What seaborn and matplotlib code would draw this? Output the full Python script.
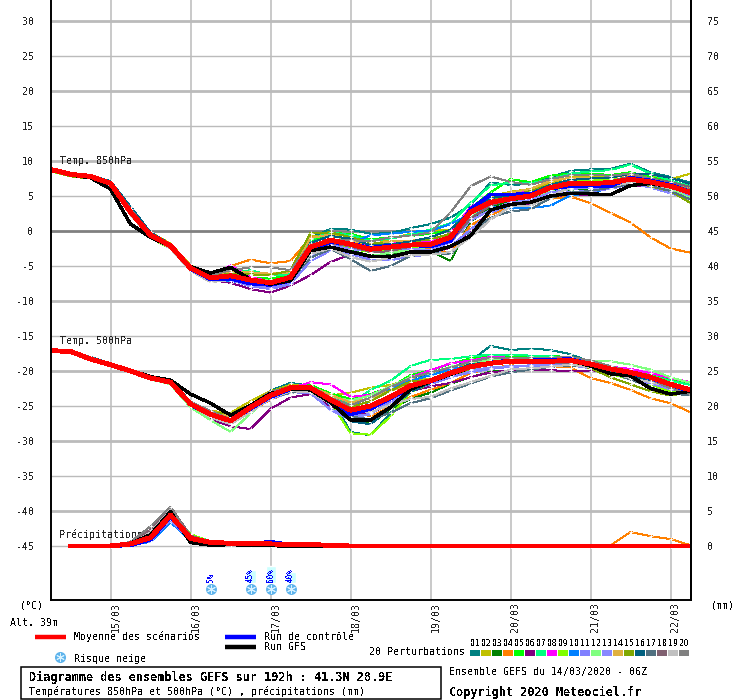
import pandas as pd
import matplotlib
matplotlib.use('Agg')
import matplotlib.pyplot as plt
from matplotlib.lines import Line2D
from matplotlib.patches import Rectangle
from matplotlib.transforms import ScaledTranslation
import seaborn as sns

# 850 hPa temperature, one value per 6h from 14/03 06Z to 22/03 06Z
t850_p01 = [8.9,8.2,7.9,7.0,3.4,-0.3,-2.0,-5.1,-6.9,-6.7,-7.3,-7.6,-7.0,-1.0,0.3,0.2,-0.4,-0.3,0.4,1.0,1.9,3.7,6.9,6.6,6.7,7.7,8.6,8.8,8.9,9.6,8.4,7.7,6.9]
t850_p02 = [8.7,8.0,7.8,6.9,2.9,-0.2,-1.8,-4.9,-6.2,-6.0,-6.1,-6.3,-5.7,-0.8,-0.5,-0.7,-2.2,-1.1,-0.4,0.2,0.2,2.8,5.0,5.6,6.0,6.9,7.7,7.7,7.9,8.0,7.7,7.4,8.2]
t850_p03 = [8.6,7.9,7.5,6.2,2.6,-0.9,-2.4,-5.4,-6.9,-6.9,-7.2,-7.5,-7.0,-3.0,-1.8,-2.8,-3.5,-3.4,-2.9,-2.8,-4.3,1.3,3.4,4.3,4.8,5.6,5.9,6.1,6.3,6.9,6.8,6.2,5.2]
t850_p04 = [8.8,8.2,7.9,6.9,3.1,-0.5,-2.0,-5.0,-6.4,-5.0,-4.1,-4.6,-4.3,-0.9,-0.7,-1.2,-3.0,-2.8,-2.6,-2.5,-3.1,0.8,2.3,3.4,4.0,4.6,4.9,4.0,2.6,1.2,-0.9,-2.5,-3.1]
t850_p05 = [8.7,8.0,7.7,6.8,2.7,-0.7,-2.2,-5.5,-6.8,-6.5,-6.7,-6.8,-6.3,-1.5,-0.3,-0.4,-1.2,-0.9,-0.7,-0.4,0.1,3.2,5.5,7.4,7.0,7.9,8.2,8.2,8.0,8.4,7.7,7.0,6.2]
t850_p06 = [8.7,8.0,7.6,6.7,2.5,-0.8,-2.3,-5.6,-7.0,-7.4,-8.3,-8.8,-7.8,-6.3,-4.4,-3.4,-3.7,-3.7,-3.1,-3.0,-2.4,0.1,2.8,3.6,3.9,4.9,5.2,5.1,5.1,6.4,6.4,6.0,5.2]
t850_p07 = [8.8,8.1,7.8,6.9,3.0,-0.4,-2.0,-5.2,-6.5,-6.0,-5.6,-6.3,-6.2,-1.2,-0.2,-0.6,-1.4,-1.1,-0.5,0.2,1.1,4.0,6.5,6.9,6.8,7.4,8.2,8.5,8.7,9.5,8.2,7.2,6.4]
t850_p08 = [8.8,8.1,7.8,6.9,2.8,-0.6,-2.2,-5.4,-6.6,-4.9,-6.6,-7.2,-6.9,-2.4,-1.4,-1.6,-2.1,-1.5,-1.6,-1.5,-0.3,3.4,5.0,5.4,5.6,6.6,7.0,7.1,7.1,7.5,7.0,6.6,5.7]
t850_p09 = [8.5,7.9,7.6,6.6,2.4,-1.0,-2.5,-5.6,-7.0,-6.8,-7.5,-7.8,-7.2,-2.9,-1.6,-2.5,-3.0,-2.8,-2.4,-2.1,-1.0,2.0,3.9,4.9,5.3,6.4,7.0,7.2,7.4,7.6,6.9,6.1,5.0]
t850_p10 = [8.8,8.1,7.6,6.7,2.5,-0.8,-2.3,-5.5,-7.2,-7.1,-7.7,-8.0,-7.4,-3.4,-2.3,-1.8,-0.6,-0.4,-0.1,0.0,1.0,2.4,3.5,3.2,3.3,3.6,5.1,5.4,6.2,6.8,6.6,6.2,5.0]
t850_p11 = [8.6,8.0,7.7,6.7,2.6,-0.7,-2.3,-5.6,-7.1,-7.0,-7.9,-8.3,-7.6,-4.3,-2.8,-3.3,-4.1,-4.2,-3.6,-3.4,-2.2,0.2,2.6,3.8,4.3,5.1,5.6,5.7,6.0,6.7,6.6,6.0,4.9]
t850_p12 = [8.7,8.0,7.8,6.8,2.8,-0.6,-2.1,-5.3,-6.6,-6.4,-6.9,-7.1,-6.8,-3.8,-2.3,-3.0,-3.6,-3.1,-2.7,-2.2,-1.3,2.2,4.1,4.4,4.8,5.8,6.4,6.5,6.7,7.0,6.6,5.9,4.7]
t850_p13 = [8.8,8.2,7.9,7.0,3.0,-0.4,-2.0,-5.1,-6.8,-6.6,-7.6,-8.1,-7.3,-3.5,-2.0,-2.6,-2.8,-2.4,-2.6,-2.7,-1.6,1.5,3.0,4.1,4.4,5.5,6.0,6.2,6.2,6.9,6.2,5.4,4.5]
t850_p14 = [8.9,8.2,7.9,7.0,3.3,-0.3,-1.9,-5.0,-6.3,-5.9,-5.9,-6.1,-5.9,-1.0,-0.5,-1.4,-1.9,-1.5,-1.4,-1.1,-0.5,3.0,4.7,5.5,6.0,7.2,7.6,7.6,7.6,8.1,7.5,6.8,6.0]
t850_p15 = [8.6,7.8,7.5,6.4,2.4,-0.9,-2.4,-5.4,-6.5,-6.1,-6.2,-6.3,-5.6,-0.3,-0.2,-0.9,-1.6,-1.9,-1.5,-1.2,-0.4,2.4,4.6,5.0,5.7,6.6,6.7,6.7,6.7,7.2,6.4,5.7,4.0]
t850_p16 = [9.0,8.3,8.0,7.1,3.5,-0.2,-1.9,-5.2,-6.7,-6.7,-7.2,-7.7,-7.1,-1.7,-0.7,-1.1,-2.0,-1.9,-1.5,-0.9,0.2,2.8,4.7,5.1,5.4,6.6,7.3,7.5,7.6,8.2,8.1,7.6,6.7]
t850_p17 = [8.8,8.2,7.8,6.8,2.9,-0.6,-2.1,-5.4,-6.9,-6.8,-7.3,-7.6,-7.0,-3.8,-2.6,-4.0,-5.7,-5.0,-3.6,-3.1,-3.3,-0.3,1.9,2.8,3.1,4.7,5.5,5.7,6.2,6.7,6.5,5.7,4.5]
t850_p18 = [8.7,8.1,7.7,6.8,3.2,-0.5,-2.1,-5.3,-6.8,-6.5,-6.9,-7.3,-6.7,-3.1,-1.7,-2.2,-3.0,-2.9,-2.2,-2.0,-1.5,1.8,3.6,4.7,5.1,6.1,6.8,6.7,7.1,7.8,7.5,7.0,6.3]
t850_p19 = [8.6,8.0,7.6,6.5,2.3,-0.9,-2.5,-5.7,-7.3,-7.0,-7.4,-7.5,-7.0,-3.3,-2.5,-3.7,-4.4,-3.8,-3.5,-3.4,-3.0,-0.9,1.6,3.5,3.6,5.0,6.2,6.3,6.4,6.9,6.7,6.1,5.3]
t850_p20 = [8.8,8.1,7.7,6.9,3.1,-0.4,-2.0,-5.0,-6.3,-5.6,-5.2,-5.2,-5.6,-1.9,-1.4,-1.3,-1.5,-0.9,-0.7,-0.2,2.6,6.4,7.8,7.0,6.6,7.4,8.0,8.0,7.9,8.2,7.5,6.7,5.9]
t850_control = [8.8,8.1,7.7,6.9,2.8,-0.6,-2.2,-5.4,-6.9,-6.8,-7.5,-7.7,-7.1,-2.6,-1.6,-1.8,-2.4,-2.1,-2.0,-2.2,-1.4,3.1,5.2,5.2,5.3,6.1,6.4,6.5,6.4,7.6,7.2,6.6,5.6]
t850_gfs = [8.7,8.0,7.6,6.0,1.0,-0.9,-2.2,-5.1,-6.0,-5.2,-6.9,-7.6,-7.1,-2.8,-2.3,-3.0,-3.6,-3.7,-3.0,-3.0,-2.2,-0.7,3.0,3.8,4.1,5.0,5.4,5.3,5.2,6.5,6.8,6.3,5.5]
t850_mean = [8.8,8.1,7.8,6.8,2.7,-0.6,-2.1,-5.3,-6.7,-6.4,-7.0,-7.4,-6.6,-2.3,-1.3,-1.9,-2.6,-2.3,-2.0,-1.9,-0.9,2.7,4.1,4.6,5.0,6.2,6.8,6.8,6.9,7.4,7.0,6.4,5.5]

# 500 hPa temperature
t500_p01 = [-17.0,-17.1,-18.0,-19.0,-19.9,-20.8,-21.2,-24.4,-25.8,-26.6,-25.0,-22.8,-21.7,-22.1,-23.6,-28.7,-29.2,-26.0,-20.9,-20.5,-19.5,-18.6,-16.4,-17.0,-16.8,-17.0,-17.6,-18.7,-19.4,-20.0,-20.8,-21.9,-23.0]
t500_p02 = [-17.1,-17.2,-18.2,-19.1,-20.1,-21.1,-21.5,-24.4,-25.7,-26.0,-24.3,-22.9,-22.0,-22.1,-23.5,-23.1,-22.4,-22.0,-21.1,-21.2,-20.0,-18.9,-18.0,-17.7,-18.0,-18.2,-18.4,-19.2,-19.9,-20.6,-21.2,-22.3,-22.7]
t500_p03 = [-17.1,-17.3,-18.4,-19.2,-20.2,-21.2,-21.8,-24.9,-26.4,-27.4,-25.9,-23.3,-22.3,-22.6,-24.5,-26.6,-27.6,-25.4,-24.0,-23.1,-21.8,-20.9,-20.1,-19.9,-19.6,-19.1,-18.9,-19.5,-20.3,-21.0,-21.8,-22.6,-23.0]
t500_p04 = [-17.2,-17.2,-18.3,-19.0,-20.0,-21.0,-21.6,-24.6,-26.0,-27.2,-25.7,-24.1,-23.0,-22.9,-23.9,-25.4,-26.5,-25.1,-23.7,-22.7,-21.7,-20.3,-19.6,-19.2,-19.3,-19.3,-19.5,-21.0,-21.7,-22.7,-23.9,-24.6,-25.9]
t500_p05 = [-17.1,-17.2,-18.2,-19.0,-19.9,-20.9,-21.4,-24.5,-25.9,-26.8,-24.8,-23.0,-22.2,-22.0,-23.2,-24.0,-23.3,-22.3,-20.6,-19.9,-19.0,-18.2,-17.9,-18.0,-17.9,-17.8,-18.1,-18.9,-19.5,-19.9,-20.5,-21.3,-21.8]
t500_p06 = [-17.1,-17.3,-18.4,-19.2,-20.1,-21.1,-21.8,-25.0,-26.9,-27.9,-28.3,-25.4,-23.8,-23.3,-25.0,-26.3,-26.0,-24.7,-22.9,-22.2,-21.7,-20.9,-20.2,-19.9,-19.9,-19.9,-20.0,-20.0,-20.1,-21.1,-21.7,-22.4,-23.0]
t500_p07 = [-17.0,-17.1,-18.1,-19.0,-19.9,-20.9,-21.3,-24.5,-25.9,-26.7,-25.0,-23.2,-22.3,-22.2,-23.7,-24.7,-22.7,-21.4,-19.3,-18.4,-18.3,-17.9,-17.7,-17.7,-17.8,-17.9,-18.1,-18.7,-19.4,-20.0,-20.7,-21.4,-22.0]
t500_p08 = [-17.2,-17.3,-18.3,-19.1,-20.0,-21.0,-21.6,-24.8,-26.3,-27.2,-25.3,-23.4,-22.5,-21.6,-21.9,-23.7,-23.4,-22.3,-20.9,-19.9,-18.9,-18.5,-18.0,-18.1,-18.1,-18.2,-18.4,-19.0,-19.4,-19.7,-20.3,-21.0,-21.6]
t500_p09 = [-17.1,-17.2,-18.3,-19.2,-20.2,-21.1,-21.7,-24.9,-26.4,-27.3,-25.2,-23.6,-22.7,-22.6,-24.4,-28.9,-29.1,-26.5,-23.0,-21.8,-20.7,-19.6,-19.0,-18.8,-18.7,-18.7,-18.8,-19.5,-20.4,-21.2,-21.9,-23.0,-22.9]
t500_p10 = [-17.1,-17.2,-18.2,-19.0,-19.9,-20.9,-21.2,-24.7,-26.1,-26.6,-24.9,-23.4,-22.6,-22.7,-24.8,-25.0,-24.4,-22.4,-21.4,-20.6,-19.8,-19.2,-18.8,-18.6,-18.6,-18.8,-18.8,-19.5,-20.2,-20.7,-21.3,-22.0,-22.6]
t500_p11 = [-17.1,-17.2,-18.3,-19.1,-20.0,-21.1,-21.7,-24.9,-26.5,-27.5,-25.8,-24.0,-23.0,-23.2,-25.5,-26.4,-26.2,-24.2,-22.7,-21.9,-20.9,-20.2,-19.7,-19.4,-19.3,-19.1,-19.1,-19.5,-20.0,-20.7,-21.5,-22.4,-23.3]
t500_p12 = [-17.1,-17.2,-18.3,-19.2,-20.2,-21.2,-21.9,-25.2,-27.0,-28.7,-26.1,-23.5,-22.5,-22.3,-23.7,-24.2,-23.5,-22.2,-20.9,-20.3,-19.4,-18.8,-18.4,-18.3,-18.3,-18.2,-18.4,-18.5,-18.6,-19.1,-19.8,-20.9,-21.7]
t500_p13 = [-17.2,-17.3,-18.4,-19.2,-20.1,-21.0,-21.7,-24.9,-26.5,-27.4,-25.5,-24.0,-23.1,-22.9,-25.6,-27.0,-26.0,-24.6,-22.3,-21.5,-20.7,-19.9,-19.5,-19.3,-19.2,-19.1,-19.2,-19.6,-20.3,-20.9,-21.8,-22.6,-23.2]
t500_p14 = [-17.1,-17.2,-18.3,-19.1,-20.1,-21.0,-21.5,-24.5,-25.8,-26.5,-25.1,-23.2,-22.1,-22.2,-23.4,-24.5,-23.9,-22.8,-22.0,-21.2,-20.4,-19.5,-18.9,-18.3,-18.3,-18.4,-18.6,-19.0,-19.6,-20.2,-21.0,-21.9,-22.5]
t500_p15 = [-17.1,-17.3,-18.4,-19.2,-20.2,-21.1,-21.7,-24.6,-25.9,-26.1,-24.8,-22.9,-22.2,-22.3,-24.0,-25.2,-24.3,-22.8,-21.5,-21.3,-20.6,-19.7,-18.9,-18.8,-18.8,-18.8,-18.9,-19.6,-20.9,-21.9,-22.9,-23.5,-23.0]
t500_p16 = [-17.0,-17.1,-18.0,-18.9,-19.8,-20.7,-21.3,-24.4,-26.2,-27.3,-25.4,-23.7,-22.6,-22.8,-24.6,-27.2,-27.6,-25.3,-23.0,-21.7,-20.2,-19.0,-18.8,-18.7,-18.8,-18.6,-18.6,-19.3,-20.1,-20.7,-21.5,-22.3,-23.2]
t500_p17 = [-17.1,-17.2,-18.0,-19.0,-20.0,-21.0,-21.6,-24.7,-26.3,-27.3,-25.6,-23.8,-23.1,-22.9,-24.7,-26.5,-26.9,-26.0,-24.6,-23.9,-22.8,-21.8,-20.8,-20.2,-19.8,-19.4,-19.2,-19.4,-20.2,-21.2,-22.3,-23.3,-23.4]
t500_p18 = [-17.2,-17.2,-18.2,-19.1,-20.0,-21.0,-21.7,-24.8,-26.2,-27.0,-25.2,-23.5,-22.6,-22.6,-24.2,-25.8,-25.4,-23.9,-22.4,-21.5,-20.5,-19.6,-18.7,-18.6,-18.8,-18.8,-18.8,-19.1,-19.8,-20.4,-21.0,-22.0,-22.9]
t500_p19 = [-17.1,-17.2,-18.3,-19.2,-20.2,-21.2,-21.8,-24.9,-26.6,-27.6,-25.9,-23.9,-22.9,-23.0,-24.7,-25.9,-25.9,-24.8,-24.0,-23.7,-22.5,-21.6,-20.7,-19.8,-19.6,-19.4,-19.1,-19.5,-20.3,-21.0,-21.6,-22.2,-22.8]
t500_p20 = [-17.1,-17.2,-18.1,-19.0,-19.9,-20.9,-21.5,-24.4,-25.7,-26.9,-25.0,-22.9,-22.4,-22.1,-23.8,-24.9,-23.8,-22.3,-21.0,-20.2,-19.5,-18.7,-18.1,-18.1,-18.2,-18.1,-18.0,-18.5,-19.3,-20.1,-21.2,-22.5,-23.3]
t500_control = [-17.1,-17.2,-18.3,-19.1,-20.0,-21.0,-21.6,-24.8,-26.3,-27.1,-25.4,-23.7,-22.6,-22.5,-24.4,-26.2,-25.4,-23.9,-22.3,-21.5,-20.4,-19.4,-18.8,-18.5,-18.5,-18.4,-18.3,-19.0,-19.7,-20.3,-21.0,-22.0,-22.9]
t500_gfs = [-17.1,-17.2,-18.3,-19.1,-19.9,-20.8,-21.3,-23.3,-24.6,-26.3,-24.9,-23.2,-22.6,-22.7,-24.5,-27.0,-27.0,-25.2,-22.6,-21.5,-20.5,-19.5,-19.0,-18.7,-18.7,-18.6,-18.5,-19.3,-20.4,-20.7,-22.5,-23.3,-22.9]
t500_mean = [-17.1,-17.2,-18.3,-19.1,-20.0,-21.0,-21.6,-24.7,-26.2,-27.1,-25.2,-23.5,-22.4,-22.4,-24.1,-25.6,-25.0,-23.7,-22.1,-21.4,-20.3,-19.4,-18.9,-18.6,-18.7,-18.6,-18.5,-19.0,-19.7,-20.2,-20.9,-21.9,-22.7]

# precipitation in mm, only the spike and the orange bump stand out, rest is close to 0
rr_head = [0, 0, 0]
rr_tail = [0, 0, 0, 0, 0, 0, 0, 0, 0, 0, 0, 0, 0, 0, 0, 0, 0, 0]
rr_p01 = [0.3,1.4,5.0,0.9,0.4,0.3,0.2,0.3,0.2,0.2,0.1]
rr_p02 = [0.4,1.8,5.1,1.2,0.5,0.3,0.3,0.4,0.2,0.1,0.1]
rr_p03 = [0.5,1.9,4.9,1.3,0.4,0.3,0.4,0.3,0.2,0.2,0.1]
rr_p04 = [0.3,1.0,4.5,1.0,0.3,0.2,0.3,0.2,0.1,0.1,0.0]
rr_p05 = [0.4,1.2,4.7,1.4,0.6,0.4,0.2,0.2,0.3,0.1,0.1]
rr_p06 = [0.2,1.1,4.4,1.1,0.4,0.3,0.4,0.5,0.2,0.2,0.1]
rr_p07 = [0.4,1.5,4.8,1.6,0.7,0.3,0.2,0.3,0.2,0.1,0.1]
rr_p08 = [0.3,1.3,4.3,1.0,0.4,0.2,0.3,0.3,0.2,0.1,0.0]
rr_p09 = [0.3,1.2,4.6,1.7,0.6,0.4,0.3,0.2,0.2,0.1,0.1]
rr_p10 = [0.1,0.6,3.4,0.8,0.3,0.2,0.3,0.4,0.2,0.2,0.1]
rr_p11 = [0.2,0.7,3.7,0.9,0.3,0.3,0.4,0.3,0.1,0.1,0.0]
rr_p12 = [0.3,1.0,4.2,1.5,0.6,0.3,0.2,0.2,0.2,0.1,0.1]
rr_p13 = [0.2,0.8,3.9,0.8,0.3,0.2,0.3,0.3,0.2,0.2,0.1]
rr_p14 = [0.4,1.6,5.2,1.2,0.5,0.4,0.3,0.2,0.2,0.1,0.1]
rr_p15 = [0.4,1.7,5.3,1.3,0.6,0.3,0.3,0.3,0.1,0.1,0.1]
rr_p16 = [0.3,1.1,4.1,1.0,0.3,0.3,0.2,0.4,0.2,0.1,0.0]
rr_p17 = [0.3,1.3,4.4,1.4,0.4,0.2,0.3,0.3,0.2,0.2,0.1]
rr_p18 = [0.5,2.3,5.6,1.5,0.5,0.3,0.3,0.2,0.1,0.1,0.1]
rr_p19 = [0.4,1.9,5.2,1.1,0.4,0.3,0.2,0.3,0.2,0.1,0.0]
rr_p20 = [0.6,2.8,5.6,1.2,0.4,0.3,0.3,0.3,0.2,0.2,0.1]
rr_control = [0.1,0.9,4.2,1.0,0.3,0.2,0.3,0.6,0.2,0.1,0.2]
rr_gfs = [0.4,1.6,4.9,0.5,0.1,0.2,0.1,0.1,-0.1,-0.1,0.1]
rr_mean = [0.3,1.2,4.4,1.1,0.5,0.4,0.4,0.3,0.2,0.2,0.1]
# member 04 has a small late bump, x steps 27 to 32
rr_p04_late = [0.0, 0.1, 2.0, 1.4, 1.0, 0.1]

day_steps = [3, 7, 11, 15, 19, 23, 27, 31]
day_labels = ['15/03', '16/03', '17/03', '18/03', '19/03', '20/03', '21/03', '22/03']
member_names = ['01', '02', '03', '04', '05', '06', '07', '08', '09', '10',
                '11', '12', '13', '14', '15', '16', '17', '18', '19', '20']
member_colors = ['#008080', '#C0C000', '#008000', '#FF8000', '#00FF00', '#800080', '#00FF80',
                 '#FF00FF', '#80FF00', '#0080FF', '#8080FF', '#80FF80', '#8888FF', '#E0B040',
                 '#80A800', '#006080', '#507080', '#806070', '#C0C0C0', '#808080']
snow_steps = [8, 10, 11, 12]
snow_pct = [5, 45, 60, 40]
temp_ticks = [30, 25, 20, 15, 10, 5, 0, -5, -10, -15, -20, -25, -30, -35, -40, -45]
mm_ticks = [75, 70, 65, 60, 55, 50, 45, 40, 35, 30, 25, 20, 15, 10, 5, 0]

t850_members = [t850_p01, t850_p02, t850_p03, t850_p04, t850_p05, t850_p06, t850_p07, t850_p08, t850_p09, t850_p10,
                t850_p11, t850_p12, t850_p13, t850_p14, t850_p15, t850_p16, t850_p17, t850_p18, t850_p19, t850_p20]
t500_members = [t500_p01, t500_p02, t500_p03, t500_p04, t500_p05, t500_p06, t500_p07, t500_p08, t500_p09, t500_p10,
                t500_p11, t500_p12, t500_p13, t500_p14, t500_p15, t500_p16, t500_p17, t500_p18, t500_p19, t500_p20]
rr_members = [rr_p01, rr_p02, rr_p03, rr_p04, rr_p05, rr_p06, rr_p07, rr_p08, rr_p09, rr_p10,
              rr_p11, rr_p12, rr_p13, rr_p14, rr_p15, rr_p16, rr_p17, rr_p18, rr_p19, rr_p20]

W, H = 740, 700
MONO = 'DejaVu Sans Mono'
sns.set_theme(style='white', rc={'text.antialiased': False})
plt.rcParams['font.family'] = [MONO]


def to_long(series, names, first_step=0):
    rows = []
    for name, values in zip(names, series):
        rows.append(pd.DataFrame({'step': range(first_step, first_step + len(values)),
                                  'value': values, 'member': name}))
    return pd.concat(rows, ignore_index=True)


def draw_members(axis, long_frame):
    sns.lineplot(data=long_frame, x='step', y='value', hue='member', palette=palette,
                 estimator=None, errorbar=None, legend=False, linewidth=0.72, marker='+', markersize=3,
                 markeredgewidth=0.6, antialiased=False, ax=axis)


def draw_run(axis, values, first_step, color, width):
    frame = pd.DataFrame({'step': range(first_step, first_step + len(values)), 'value': values})
    sns.lineplot(data=frame, x='step', y='value', color=color, linewidth=width,
                 estimator=None, errorbar=None, antialiased=False, ax=axis)


def put(x, y, text, **kw):
    kw.setdefault('fontsize', 7.2)
    kw.setdefault('va', 'center')
    kw.setdefault('color', 'black')
    fig.text(x / W, 1 - y / H, text, **kw)


def fig_line(x0, x1, y, color, lw):
    fig.add_artist(Line2D([x0 / W, x1 / W], [1 - y / H, 1 - y / H], color=color, lw=lw,
                          solid_capstyle='butt', transform=fig.transFigure))


def flake(axis, steps, y):
    axis.scatter(steps, [y] * len(steps), s=62, color='#5FB4EC', linewidths=0, zorder=3)
    axis.scatter(steps, [y] * len(steps), s=34, marker=(6, 2, 0), color='#D8F2FF', linewidths=0.7, zorder=4)


fig = plt.figure(figsize=(W / 100, H / 100), dpi=100, facecolor='white')
ax = fig.add_axes([50.5 / W, (H - 600.3) / H, 640 / W, 600.3 / H])
ax.set_xlim(0, 32)
ax.set_ylim(-(600.3 - 231) / 7, 231 / 7)

palette = dict(zip(member_names, member_colors))
for table in (t850_members, t500_members):
    draw_members(ax, to_long(table, member_names))

# thick runs, red mean goes on top
for control, gfs, mean in ((t850_control, t850_gfs, t850_mean), (t500_control, t500_gfs, t500_mean)):
    draw_run(ax, control, 0, '#0000FF', 2.0)
    draw_run(ax, gfs, 0, '#000000', 1.7)
    draw_run(ax, mean, 0, '#FF0000', 2.8)

# y grid: every 5 thin, every 10 thick, zero darker
ax.set_yticks(temp_ticks)
ax.set_yticklabels([str(t) for t in temp_ticks])
ax.set_xticks(day_steps)
ax.set_xticklabels(day_labels, rotation=90, ha='left', va='top')
shift = ScaledTranslation(2.5 / 100, 0, fig.dpi_scale_trans)
for label in ax.get_xticklabels():
    label.set_transform(label.get_transform() + shift)
ax.grid(True, axis='both', color='#BBBBBB', linewidth=1.1)
ax.set_axisbelow(True)
for tick, line in zip(temp_ticks, ax.yaxis.get_gridlines()):
    if tick == 0:
        line.set(color='#808080', linewidth=2.0)
    elif tick % 10 == 0:
        line.set(linewidth=2.0)
    else:
        line.set(linewidth=1.0)
ax.tick_params(axis='y', length=0, pad=12, labelsize=7.2)
ax.tick_params(axis='x', length=0, pad=1, labelsize=7.2)
ax.set_xlabel('')
ax.set_ylabel('')
for side in ('left', 'right', 'bottom'):
    ax.spines[side].set(color='black', linewidth=1.4)
ax.spines['top'].set_visible(False)

# snow risk bars and flakes
ax.bar(snow_steps, [p * 0.04 for p in snow_pct], width=0.5, bottom=-50.3, color='#CCFFFF', zorder=2)
flake(ax, snow_steps, -51.1)
for step, pct in zip(snow_steps, snow_pct):
    ax.text(step, -50.2, f'{pct}%', rotation=90, ha='center', va='bottom', fontsize=5.6, color='#0000FF', zorder=5)

ax.text(0.45, 10, 'Temp. 850hPa', fontsize=7.2, va='center')
ax.text(0.45, -15.7, 'Temp. 500hPa', fontsize=7.2, va='center')
ax.text(0.45, -43.4, 'Précipitations', fontsize=7.2, va='center')

# right axis is in mm
ax2 = ax.twinx()
ax2.set_ylim(ax.get_ylim()[0] + 45, ax.get_ylim()[1] + 45)
ax2.set_yticks(mm_ticks)
ax2.set_yticklabels([str(m) for m in mm_ticks])
ax2.tick_params(axis='y', length=0, pad=12, labelsize=7.2)
ax2.grid(False)
ax2.spines['top'].set_visible(False)
ax2.spines['left'].set_visible(False)
ax2.spines['bottom'].set_visible(False)
ax2.spines['right'].set(color='black', linewidth=1.4)

rr_tables = []
for name, vals in zip(member_names, rr_members):
    if name == '04':
        full = rr_head + vals + rr_tail[:12] + rr_p04_late
    else:
        full = rr_head + vals + rr_tail
    rr_tables.append(full)
draw_members(ax2, to_long(rr_tables, member_names, first_step=1))
draw_run(ax2, rr_head + rr_control + rr_tail, 1, '#0000FF', 2.0)
draw_run(ax2, rr_head + rr_gfs + rr_tail, 1, '#000000', 1.7)
draw_run(ax2, rr_head + rr_mean + rr_tail, 1, '#FF0000', 2.8)
ax2.set_xlabel('')
ax2.set_ylabel('')
ax2.set_xlim(0, 32)

# texts and legend under the axes
put(20, 606, '(°C)')
put(10, 623, 'Alt. 39m')
put(711, 606, '(mm)')
fig_line(35, 66, 637, '#FF0000', 3.2)
fig_line(225, 256, 637, '#0000FF', 3.2)
fig_line(225, 256, 647, '#000000', 3.2)
put(74, 637, 'Moyenne des scénarios')
put(264, 637, 'Run de contrôle')
put(264, 647, 'Run GFS')
put(74, 659, 'Risque neige')
put(369, 652, '20 Perturbations')
fig.add_artist(Line2D([60 / W], [1 - 657 / H], marker='o', markersize=8, color='#5FB4EC', markeredgewidth=0,
                      transform=fig.transFigure))
fig.add_artist(Line2D([60 / W], [1 - 657 / H], marker=(6, 2, 0), markersize=6, color='#D8F2FF', markeredgewidth=0.7,
                      transform=fig.transFigure))
for i, (name, color) in enumerate(zip(member_names, member_colors)):
    x0 = 470 + 11 * i
    fig.add_artist(Rectangle((x0 / W, 1 - 656 / H), 10 / W, 6 / H, color=color, linewidth=0,
                             transform=fig.transFigure))
    put(x0 + 5, 643.5, name, fontsize=5.6, ha='center', family='DejaVu Sans')

fig.add_artist(Rectangle((20.5 / W, 1 - 699 / H), 420.5 / W, 32 / H, facecolor='white', edgecolor='black',
                         linewidth=1.1, transform=fig.transFigure))
put(29, 677, 'Diagramme des ensembles GEFS sur 192h : 41.3N 28.9E', fontsize=8.5, fontweight='bold')
put(29, 692, 'Températures 850hPa et 500hPa (°C) , précipitations (mm)', fontsize=7.2)
put(449, 672, 'Ensemble GEFS du 14/03/2020 - 06Z')
put(449, 692, 'Copyright 2020 Meteociel.fr', fontsize=8.5, fontweight='bold')

fig.savefig('out.png', dpi=100)
